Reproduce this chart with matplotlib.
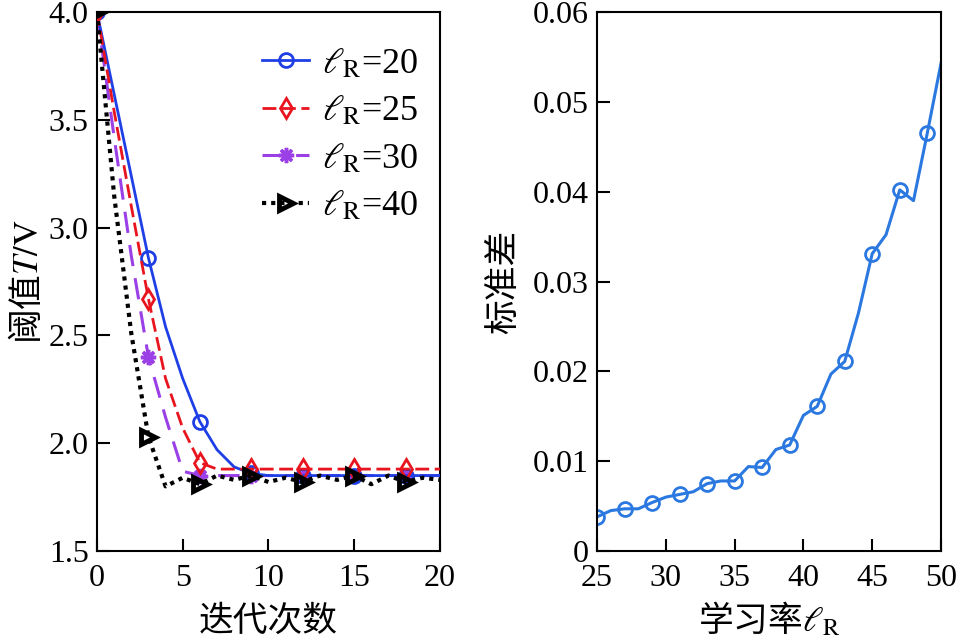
import numpy as np
import matplotlib
matplotlib.use('Agg')
import matplotlib.pyplot as plt
from matplotlib.ticker import FixedLocator, FuncFormatter

plt.rcParams['font.family'] = ['Liberation Serif', 'Noto Sans CJK SC']
plt.rcParams['mathtext.fontset'] = 'stix'
plt.rcParams['axes.unicode_minus'] = False

# 左图: 迭代次数 vs 阈值
iters = list(range(21))
th_20 = [4.00, 3.62, 3.24, 2.86, 2.54, 2.30, 2.10, 1.97, 1.89, 1.86, 1.85,
         1.85, 1.85, 1.85, 1.85, 1.85, 1.85, 1.85, 1.85, 1.85, 1.85]
th_25 = [4.00, 3.54, 3.10, 2.67, 2.30, 2.07, 1.91, 1.88, 1.88, 1.88, 1.88,
         1.88, 1.88, 1.88, 1.88, 1.88, 1.88, 1.88, 1.88, 1.88, 1.88]
th_30 = [4.00, 3.42, 2.87, 2.40, 2.12, 1.87, 1.85, 1.85, 1.85, 1.85, 1.85,
         1.85, 1.85, 1.85, 1.85, 1.85, 1.85, 1.85, 1.85, 1.85, 1.85]
th_40 = [4.00, 3.15, 2.51, 2.03, 1.80, 1.84, 1.81, 1.85, 1.83, 1.85, 1.82,
         1.84, 1.82, 1.85, 1.83, 1.85, 1.81, 1.85, 1.82, 1.84, 1.83]
labels = [r'$\ell_{\rm R}$=20', r'$\ell_{\rm R}$=25', r'$\ell_{\rm R}$=30', r'$\ell_{\rm R}$=40']

# 右图: 学习率 vs 标准差
lr = list(range(25, 51))
std = [0.0038, 0.0045, 0.0047, 0.0047, 0.0054, 0.0060, 0.0063, 0.0066, 0.0075,
       0.0078, 0.0078, 0.0094, 0.0093, 0.0113, 0.0118, 0.0151, 0.0161, 0.0197,
       0.0211, 0.0265, 0.0331, 0.0352, 0.0402, 0.0390, 0.0465, 0.0543]

fig = plt.figure(figsize=(9.62, 6.42), dpi=100)
ax1 = fig.add_axes([0.1008, 0.1417, 0.3565, 0.8396])
ax2 = fig.add_axes([0.6206, 0.1417, 0.3576, 0.8396])

fs = 23
cjk = 'Noto Sans CJK SC'

ax1.plot(iters, th_20, color='#1f3fe6', lw=2.0, marker='o', ms=10, mfc='none',
         mew=2.0, markevery=3, label=labels[0], zorder=3)
ax1.plot(iters, th_25, color='#e8141e', lw=2.0, dashes=(5, 2), marker='d', ms=10,
         mfc='none', mew=2.0, markevery=3, label=labels[1], zorder=4)
ax1.plot(iters, th_30, color='#9b3fe6', lw=2.2, dashes=(7, 4), marker=(8, 2, 0),
         ms=11, mew=2.5, markevery=3, label=labels[2], zorder=2)
ax1.plot(iters, th_40, color='black', lw=3.0, ls=(0, (1, 1.2)), marker='>', ms=10,
         mfc='none', mew=3.5, markevery=3, label=labels[3], zorder=5)

ax1.set_xlim(0, 20)
ax1.set_ylim(1.5, 4.0)
ax1.xaxis.set_major_locator(FixedLocator([0, 5, 10, 15, 20]))
ax1.yaxis.set_major_locator(FixedLocator([1.5, 2.0, 2.5, 3.0, 3.5, 4.0]))
ax1.yaxis.set_major_formatter(FuncFormatter(lambda v, p: '%.1f' % v))
ax1.set_xlabel('迭代次数', fontsize=25, family=cjk, labelpad=8)
ax1.set_ylabel(r'阈值$T/\mathrm{V}$', fontsize=25, family=cjk, labelpad=2)
leg = ax1.legend(loc='upper right', frameon=False, fontsize=26, handlelength=1.3,
                 handletextpad=0.35, labelspacing=0.38, borderaxespad=0.2,
                 bbox_to_anchor=(1.0, 0.975))

ax2.plot(lr, std, color='#2a78e0', lw=2.2, marker='o', ms=10, mfc='none',
         mew=2.0, markevery=2)
ax2.set_xlim(25, 50)
ax2.set_ylim(0, 0.06)
ax2.xaxis.set_major_locator(FixedLocator([25, 30, 35, 40, 45, 50]))
ax2.yaxis.set_major_locator(FixedLocator([0, 0.01, 0.02, 0.03, 0.04, 0.05, 0.06]))
ax2.yaxis.set_major_formatter(FuncFormatter(lambda v, p: '0' if v == 0 else '%.2f' % v))
ax2.set_xlabel(r'学习率$\ell_{\rm R}$', fontsize=25, family=cjk, labelpad=6)
ax2.set_ylabel('标准差', fontsize=25, family=cjk, labelpad=8)

for ax in (ax1, ax2):
    for s in ax.spines.values():
        s.set_linewidth(1.5)
    ax.tick_params(direction='in', length=9, width=1.5, labelsize=fs,
                   top=False, right=False)
    ax.tick_params(axis='x', pad=9)
    ax.tick_params(axis='y', pad=6)

fig.savefig('out.png', dpi=100)
